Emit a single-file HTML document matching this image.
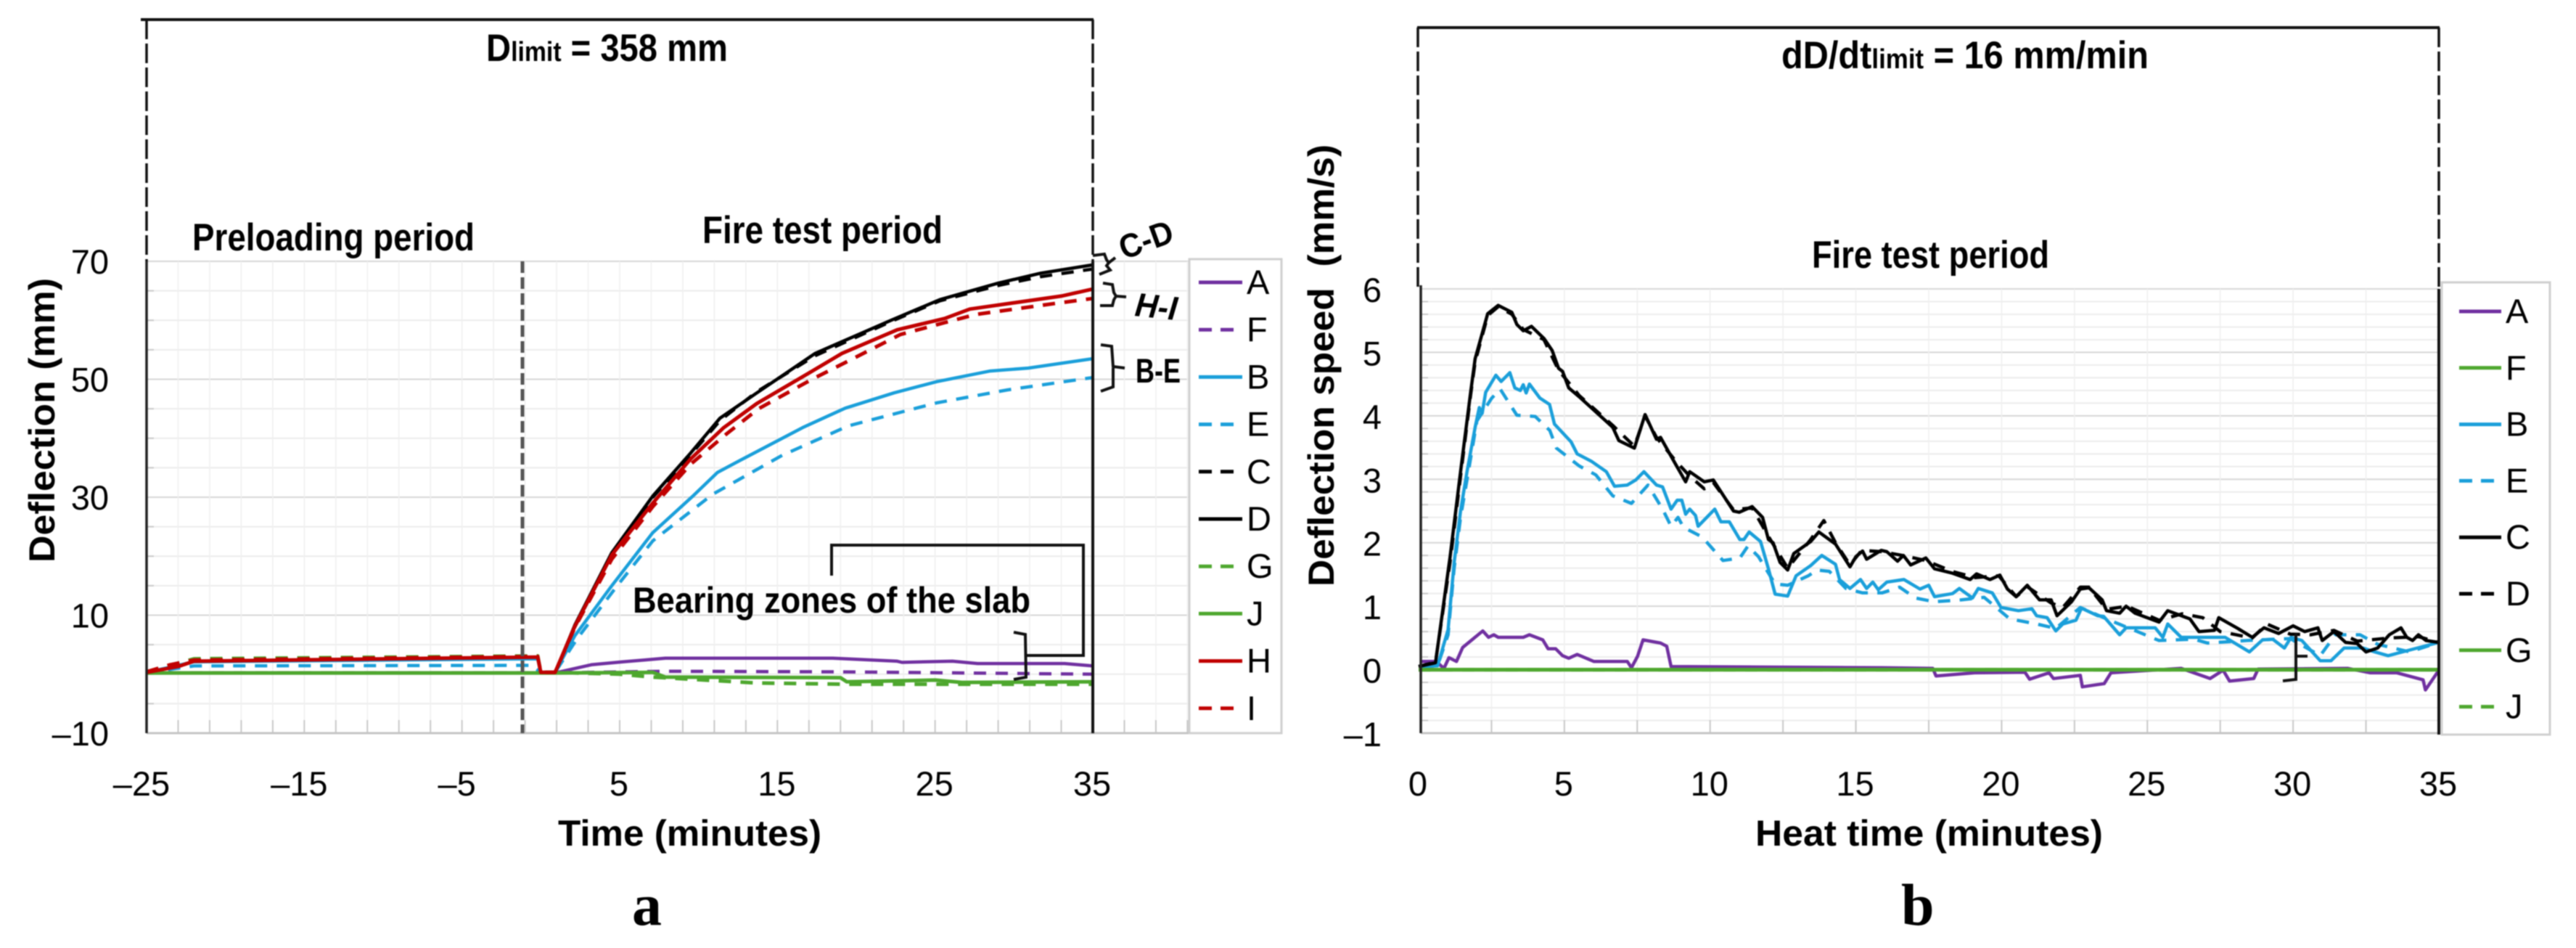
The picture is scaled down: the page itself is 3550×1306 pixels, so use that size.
<!DOCTYPE html>
<html lang="en">
<head>
<meta charset="utf-8">
<title>Deflection and deflection speed charts</title>
<style>
html,body{margin:0;padding:0;background:#fff;width:3550px;height:1306px;overflow:hidden}
svg{display:block;filter:blur(0.7px)}
text{fill:#000;font-family:"Liberation Sans",sans-serif}
.cond{font-family:"Liberation Sans Narrow","Liberation Sans",sans-serif;font-weight:700}
.tick{font-size:47px}
.title{font-weight:700;font-size:50px}
.leg{font-size:47px}
.panel{font-family:"Liberation Serif",serif;font-weight:700;font-size:82px}
</style>
</head>
<body>
<svg id="figure" xmlns="http://www.w3.org/2000/svg" width="3550" height="1306" viewBox="0 0 3550 1306">
  <rect width="3550" height="1306" fill="#fff"/>
  <g id="gridA"></g>
  <g id="gridB"></g>
  <g id="seriesA"></g>
  <g id="seriesB"></g>
  <g id="ticksA"></g>
  <g id="ticksB"></g>

  <!-- chart a frame -->
  <line x1="194" y1="27" x2="1507" y2="27" stroke="#111" stroke-width="4"/>
  <line x1="202" y1="27" x2="202" y2="360" stroke="#111" stroke-width="3.5" stroke-dasharray="27 6"/>
  <line x1="1506" y1="27" x2="1506" y2="360" stroke="#111" stroke-width="3.5" stroke-dasharray="27 6"/>
  <line x1="202" y1="360" x2="202" y2="1010" stroke="#222" stroke-width="3.5"/>
  <line x1="1506" y1="360" x2="1506" y2="1010" stroke="#111" stroke-width="4"/>
  <line x1="720" y1="360" x2="720" y2="1010" stroke="#555" stroke-width="5" stroke-dasharray="16 6"/>

  <text class="cond" x="670" y="84" font-size="53" textLength="333" lengthAdjust="spacingAndGlyphs">D<tspan font-size="38">limit</tspan> = 358 mm</text>
  <text class="cond" x="265" y="345" font-size="53" textLength="389" lengthAdjust="spacingAndGlyphs">Preloading period</text>
  <text class="cond" x="968" y="335" font-size="53" textLength="331" lengthAdjust="spacingAndGlyphs">Fire test period</text>
  <text class="title" transform="translate(75,775) rotate(-90)" textLength="392" lengthAdjust="spacingAndGlyphs">Deflection (mm)</text>
  <text class="title" x="769" y="1165" textLength="363" lengthAdjust="spacingAndGlyphs">Time (minutes)</text>
  <text class="panel" x="871" y="1274">a</text>

  <!-- chart a annotations -->
  <g fill="none" stroke="#111" stroke-width="4">
    <path d="M1506 352 L1522 350 L1525 358 L1528 362 L1537 355 M1528 362 L1525 366 L1530 372 L1515 378"/>
    <path d="M1520 390 L1533 392 L1535 403 L1538 408 L1552 409 M1538 408 L1535 413 L1533 421 L1516 421"/>
    <path d="M1517 475 L1532 477 L1534 505 L1550 507 M1534 507 L1534 533 L1517 539"/>
    <path d="M1146 793 L1146 751 L1493 751 L1493 903 L1414 903"/>
    <path d="M1397 871 L1413 874 L1414 933 L1397 936"/>
  </g>
  <text font-weight="700" font-size="46" transform="translate(1549,358) rotate(-20)" textLength="76" lengthAdjust="spacingAndGlyphs">C-D</text>
  <text font-weight="700" font-style="italic" font-size="46" transform="translate(1563,435) rotate(6)" textLength="58" lengthAdjust="spacingAndGlyphs">H-I</text>
  <text class="cond" font-size="47" x="1565" y="527" textLength="62" lengthAdjust="spacingAndGlyphs">B-E</text>
  <text class="cond" font-size="50" x="872" y="844" textLength="548" lengthAdjust="spacingAndGlyphs">Bearing zones of the slab</text>

  <!-- chart b frame -->
  <line x1="1953" y1="38" x2="3362" y2="38" stroke="#111" stroke-width="4"/>
  <line x1="1954" y1="38" x2="1954" y2="395" stroke="#111" stroke-width="3.5" stroke-dasharray="27 6"/>
  <line x1="3361" y1="38" x2="3361" y2="398" stroke="#111" stroke-width="3.5" stroke-dasharray="27 6"/>
  <line x1="1958" y1="393" x2="1958" y2="1010" stroke="#222" stroke-width="3.5"/>
  <line x1="3361" y1="398" x2="3361" y2="1012" stroke="#111" stroke-width="4"/>
  <text class="cond" x="2455" y="94" font-size="53" textLength="506" lengthAdjust="spacingAndGlyphs">dD/dt<tspan font-size="38">limit</tspan> = 16 mm/min</text>
  <text class="cond" x="2497" y="369" font-size="53" textLength="327" lengthAdjust="spacingAndGlyphs">Fire test period</text>
  <text class="title" transform="translate(1838,808) rotate(-90)" textLength="609" lengthAdjust="spacingAndGlyphs">Deflection speed&#160; (mm/s)</text>
  <text class="title" x="2419" y="1165" textLength="479" lengthAdjust="spacingAndGlyphs">Heat time (minutes)</text>
  <text class="panel" x="2620" y="1274">b</text>
  <path d="M3164 873 L3164 936 L3146 938 M3164 904 L3180 904" fill="none" stroke="#111" stroke-width="4"/>

  <g id="legendA"></g>
  <g id="legendB"></g>
</svg>

<script>
// ---------- Chart a: deflection vs time ----------
const aXTicks = [-25,-15,-5,5,15,25,35];
const aYTicks = [70,50,30,10,-10];
const aLegendNames = ['A','F','B','E','C','D','G','J','H','I'];

const aTimeA = [-25,0.9,3.2,5.2,7.9,18.5,22.6,22.9,26.1,27.7,33.2,35];
const aValA  = [0.2,0.2,1.6,2.1,2.7,2.7,2.2,2,2.2,1.8,1.8,1.4];
const aTimeF = [-25,0.9,3,5.5,7.9,18.5,27,35];
const aValF  = [0.2,0.2,0.3,0.4,0.5,0.4,0.2,0];
const aTimeB = [-25,-22,-0.2,0,0.9,2.15,4.5,7.1,9.6,11.2,12.6,16.6,19.3,22.4,25.1,28.5,30.9,35];
const aValB  = [0.3,2.1,2.6,0.3,0.3,6.5,15,24,30.1,34.2,36.2,41.8,45.1,47.7,49.6,51.4,51.9,53.5];
const aTimeE = [-25,-22,-0.6,0,0.9,2.3,4.7,7.1,10.9,15.3,19.5,25.1,29.6,35];
const aValE  = [0.2,1.4,1.5,0.3,0.3,6,14.5,22.6,30.5,37.1,42.1,46,48.2,50.3];
const aTimeC = [-25,0,0.9,2.15,4.5,7.1,9.5,11.36,13.7,17.4,22.2,25.3,29,31.7,35];
const aValC  = [0.2,0.2,0.2,8,20.2,30,37.2,43,47.9,54,59.8,63.3,65.9,67.4,68.7];
const aTimeD = [-25,0,0.9,2.15,4.5,7.1,9.5,11.36,13.7,17.4,22.2,25.3,29,31.7,35];
const aValD  = [0.2,0.2,0.2,8.3,20.6,30.2,37.5,43.4,47.7,54.4,60,63.5,66.3,68,69.4];
const aTimeG = [-25,-22,-0.2,0,0.9,5,7.1,13.7,19.4,35];
const aValG  = [0.4,2.6,3.1,0.3,0.3,0,-0.5,-1.5,-1.7,-1.7];
const aTimeJ = [-25,0.9,7.1,7.9,19,19.4,25,26.7,35];
const aValJ  = [0.2,0.2,0.3,-0.5,-0.6,-1.3,-1,-1.4,-1.3];
const aTimeH = [-25,-23,-22,-0.2,0,0.9,2.15,4.5,7.1,9.5,11.6,13.7,16.9,19.1,22.6,25.6,27.2,33,35];
const aValH  = [0.3,1.3,2.2,2.9,0.3,0.3,8.1,20.2,29,36.5,41.8,45.9,50.9,54.4,58.4,60.3,61.9,64.1,65.3];
const aTimeI = [-25,-23.5,-22,-0.2,0,0.9,2.15,4.5,7.1,9.5,11.8,13.8,17.2,19.5,22.8,25.6,27.6,33,35];
const aValI  = [0.4,1.6,2.4,3,0.3,0.3,7.9,19.5,28.4,35.6,40.8,45,50,53.1,57.6,59.6,61,63,63.7];

// ---------- Chart b: deflection speed vs heat time ----------
const bXTicks = [0,5,10,15,20,25,30,35];
const bYTicks = [6,5,4,3,2,1,0,-1];
const bLegendNames = ['A','F','B','E','C','D','G','J'];

const bTimeA = [0.1,0.6,0.87,1.04,1.3,1.51,2.2,2.4,2.58,2.73,3.59,3.8,4.26,4.44,4.7,4.94,5.15,5.44,6.01,7.16,7.3,7.51,7.7,8.3,8.51,8.66,15.9,17.64,17.75,19.07,20.8,20.96,21.63,21.78,22.7,22.77,23.52,23.75,26.16,27.15,27.6,27.82,28.65,28.8,31.88,32.65,33.56,34.46,34.54,35];
const bValA  = [0.13,0.13,0.02,0.19,0.13,0.35,0.61,0.51,0.55,0.51,0.51,0.55,0.47,0.33,0.33,0.22,0.18,0.24,0.13,0.13,0.03,0.21,0.47,0.42,0.37,0.05,0.03,0.02,-0.1,-0.05,-0.04,-0.15,-0.05,-0.14,-0.09,-0.27,-0.22,-0.05,0.02,-0.14,-0.01,-0.18,-0.14,0.01,0.02,-0.05,-0.05,-0.16,-0.32,-0.01];
const bTimeF = [0,35];
const bValF  = [0,0];
const bTimeB = [0.1,0.65,1.01,1.22,1.44,1.66,1.94,2.08,2.18,2.3,2.65,2.83,3.13,3.3,3.49,3.59,3.69,3.8,4.16,4.49,4.66,5.23,5.44,5.94,6.44,6.72,7.16,7.45,7.73,8.16,8.37,8.66,8.87,9.03,9.16,9.3,9.5,9.59,10.16,10.37,10.66,11.02,11.16,11.34,11.73,12.0,12.23,12.66,12.95,13.45,13.83,14.3,14.44,14.8,15.16,15.37,15.58,15.77,16.06,16.65,17.2,17.5,17.7,18.32,18.55,19,19.2,19.68,19.98,20.58,21.04,21.2,21.56,21.86,22.1,22.55,22.74,23.3,23.5,24.05,24.27,25.27,25.53,25.7,26.16,27.67,28.5,28.95,29.3,29.7,29.93,30.3,30.93,31.3,31.75,32.4,32.8,33.26,34,35];
const bValB  = [0.05,0.06,0.63,1.69,2.5,3.12,3.82,4.13,4.04,4.37,4.64,4.54,4.68,4.44,4.4,4.49,4.36,4.5,4.28,4.18,3.87,3.59,3.4,3.28,3.12,2.89,2.91,2.99,3.12,2.91,2.88,2.53,2.67,2.67,2.45,2.53,2.43,2.26,2.53,2.33,2.33,2.05,2.05,2.17,2.02,1.59,1.19,1.16,1.48,1.64,1.8,1.66,1.42,1.28,1.42,1.28,1.38,1.26,1.38,1.42,1.27,1.33,1.15,1.2,1.28,1.13,1.28,1.21,0.98,0.93,0.96,0.85,0.82,0.61,0.72,0.78,0.97,0.85,0.84,0.55,0.66,0.66,0.51,0.72,0.51,0.51,0.28,0.47,0.48,0.34,0.51,0.46,0.14,0.14,0.34,0.34,0.28,0.22,0.31,0.43];
const bTimeE = [0.1,0.65,1.01,1.22,1.44,1.7,2.0,2.51,2.8,3.37,4.0,4.5,4.73,5.51,6.08,6.66,7.3,7.87,8.37,8.66,8.9,9.09,9.73,10.44,11.02,11.3,11.66,12.23,12.66,13.37,13.66,14.09,14.66,15.23,15.9,16.5,17.04,17.7,18.62,19.4,20.28,21.2,21.86,22.7,23.6,24.5,25.4,26.6,27.07,28.43,29.9,30.93,31.45,32.3,32.9,34,35];
const bValE  = [0.05,0.06,0.55,1.6,2.4,3.1,3.92,4.28,4.42,4.01,3.99,3.77,3.49,3.21,3.07,2.74,2.62,2.91,2.53,2.26,2.4,2.24,2.09,1.72,1.76,1.95,1.78,1.35,1.33,1.48,1.57,1.55,1.28,1.21,1.21,1.3,1.13,1.07,1.1,1.14,0.8,0.72,0.65,0.98,0.8,0.63,0.46,0.48,0.42,0.46,0.49,0.22,0.55,0.55,0.4,0.28,0.43];
const bTimeC = [0,0.58,1.08,1.44,1.79,1.94,2.37,2.73,3.2,3.37,3.59,3.87,4.3,4.58,4.8,4.94,5.15,5.51,6.66,6.87,7.4,7.77,8.16,8.3,8.8,9.16,9.3,9.8,10.11,10.8,11.0,11.44,11.8,12.0,12.16,12.4,12.66,12.87,13.45,13.73,14.3,14.8,15,15.23,15.37,15.87,16.06,16.43,16.63,16.88,17.4,17.7,18.32,18.92,19.14,19.6,19.94,20.2,20.5,20.88,21.3,21.7,21.9,22.4,22.7,23,23.45,23.6,24.05,24.27,24.58,25.4,25.7,26.46,26.77,27.3,27.45,28.1,28.6,29,29.5,30,30.4,30.85,31,31.4,31.8,32.2,32.5,32.9,33.3,33.7,33.9,34.1,34.3,34.56,35];
const bValC  = [0.05,0.11,1.78,3.12,4.39,4.9,5.61,5.74,5.63,5.44,5.34,5.41,5.22,5.03,4.75,4.7,4.44,4.3,3.82,3.61,3.49,4.02,3.63,3.66,3.25,2.96,3.12,2.96,2.99,2.5,2.48,2.57,2.4,2.05,2.0,1.69,1.57,1.83,2.02,2.17,1.98,1.62,1.78,1.87,1.74,1.88,1.86,1.71,1.8,1.65,1.76,1.59,1.52,1.42,1.51,1.42,1.49,1.27,1.15,1.33,1.1,1.1,0.85,1.07,1.27,1.29,1.1,0.93,0.89,1.0,0.89,0.75,0.93,0.8,0.6,0.62,0.82,0.65,0.51,0.66,0.57,0.69,0.6,0.66,0.46,0.6,0.43,0.41,0.28,0.34,0.55,0.66,0.51,0.46,0.55,0.46,0.43];
const bTimeD = [0,0.58,1.08,1.44,1.79,1.94,2.37,2.73,3.2,3.59,4.3,4.8,5.51,6.66,7.4,7.77,8.16,8.8,9.3,9.8,10.11,10.8,11.44,12.0,12.66,13.45,13.9,14.3,14.8,15.2,15.9,16.6,17.4,18.3,19.1,19.9,20.5,20.9,21.7,22.1,22.7,23.0,23.6,24.3,25.4,26.2,26.9,27.5,28.6,29.1,29.9,30.6,31.4,32.2,33.3,34.3,35];
const bValD  = [0.05,0.12,1.7,3.05,4.35,4.85,5.58,5.72,5.6,5.36,5.2,4.72,4.32,3.85,3.52,4.0,3.66,3.3,3.05,2.85,2.95,2.52,2.55,2.1,1.6,2.05,2.35,2.0,1.65,1.88,1.86,1.8,1.72,1.55,1.45,1.48,1.15,1.3,1.05,0.98,1.3,1.3,0.95,1.0,0.78,0.88,0.82,0.6,0.5,0.72,0.56,0.55,0.62,0.45,0.5,0.52,0.43];
const bTimeG = [0,35];
const bValG  = [0,0];
const bTimeJ = [0,35];
const bValJ  = [0,0];

// ---------- Axis functions ----------
const aX = t => 202 + (t + 25) * (1304 / 60);
const aY = v => 360 + (70 - v) * (650 / 80);
const bX = t => 1955 + t * (1406 / 35);
const bY = v => 398 + (6 - v) * (612 / 7);

const NS = 'http://www.w3.org/2000/svg';
const PURPLE = '#7030a0', BLUE = '#1a9fda', BLACK = '#000', GREEN = '#4ea72e', RED = '#c00000';
const DASH = '17 13';

function vline(parent, x, y1, y2, color, w) {
  const el = document.createElementNS(NS, 'line');
  el.setAttribute('x1', x); el.setAttribute('x2', x);
  el.setAttribute('y1', y1); el.setAttribute('y2', y2);
  el.setAttribute('stroke', color); el.setAttribute('stroke-width', w);
  
  
  parent.appendChild(el);
}
function hline(parent, y, x1, x2, color, w) {
  const el = document.createElementNS(NS, 'line');
  el.setAttribute('x1', x1); el.setAttribute('x2', x2);
  el.setAttribute('y1', y); el.setAttribute('y2', y);
  el.setAttribute('stroke', color); el.setAttribute('stroke-width', w);
  
  
  parent.appendChild(el);
}
function label(parent, str, x, y, anchor, cls, name) {
  const el = document.createElementNS(NS, 'text');
  el.setAttribute('x', x); el.setAttribute('y', y);
  el.setAttribute('text-anchor', anchor);
  el.setAttribute('class', cls);
  el.textContent = str;
  
  
  parent.appendChild(el);
}
function series(parent, times, vals, fx, fy, color, w, dash, name) {
  const el = document.createElementNS(NS, 'path');
  el.setAttribute('d', times.map((t, i) => (i ? 'L' : 'M') + fx(t).toFixed(1) + ' ' + fy(vals[i]).toFixed(1)).join(' '));
  el.setAttribute('fill', 'none');
  el.setAttribute('stroke', color);
  el.setAttribute('stroke-width', w);
  el.setAttribute('stroke-linejoin', 'round');
  if (dash) el.setAttribute('stroke-dasharray', dash);
  
  
  parent.appendChild(el);
}
const fmt = v => (v < 0 ? '\u2013' + Math.abs(v) : String(v));

// ---------- Grid a ----------
const gA = document.getElementById('gridA');
for (let v = -10; v <= 70; v += 5) {
  const major = (v + 10) % 20 === 0;
  hline(gA, aY(v), 202, 1638, major ? '#d6d6d6' : '#ececec', 2);
  if (!major) hline(gA, aY(v), 202, 212, '#c8c8c8', 2);
}
for (let t = -23; t <= 41; t += 2) {
  vline(gA, aX(t), 360, 1010, '#efefef', 1.5);
  vline(gA, aX(t), 992, 1010, '#c8c8c8', 2);
}
hline(gA, 1010, 202, 1638, '#c4c4c4', 3);

// ---------- Grid b ----------
const gB = document.getElementById('gridB');
for (let i = 0; i <= 35; i++) {
  const v = -1 + i * 0.2;
  const major = i % 5 === 0;
  hline(gB, bY(v), 1958, 3361, major ? '#d6d6d6' : '#ececec', 2);
  if (!major) hline(gB, bY(v), 1958, 1968, '#c8c8c8', 2);
}
for (let t = 2.5; t <= 32.5; t += 2.5) {
  vline(gB, bX(t), 398, 1010, '#efefef', 1.5);
  vline(gB, bX(t), 992, 1010, '#c8c8c8', 2);
}
hline(gB, 1010, 1958, 3361, '#c4c4c4', 3);

// ---------- Ticks ----------
const tA = document.getElementById('ticksA');
aXTicks.forEach(v => label(tA, fmt(v), aX(v) + (v < 0 ? -7 : -1), 1096, 'middle', 'tick', 'x-tick-label'));
aYTicks.forEach(v => label(tA, fmt(v), 150, aY(v) + 17, 'end', 'tick', 'y-tick-label'));
const tB = document.getElementById('ticksB');
bXTicks.forEach(v => label(tB, fmt(v), bX(v) - 1, 1096, 'middle', 'tick', 'x-tick-label'));
bYTicks.forEach(v => label(tB, fmt(v), 1904, bY(v) + 18, 'end', 'tick', 'y-tick-label'));

// ---------- Series a ----------
const sA = document.getElementById('seriesA');
series(sA, aTimeA, aValA, aX, aY, PURPLE, 4.5, null, 'series-a');
series(sA, aTimeF, aValF, aX, aY, PURPLE, 4.5, DASH, 'series-f');
series(sA, aTimeB, aValB, aX, aY, BLUE, 4.5, null, 'series-b');
series(sA, aTimeE, aValE, aX, aY, BLUE, 4.5, DASH, 'series-e');
series(sA, aTimeC, aValC, aX, aY, BLACK, 4.5, DASH, 'series-c');
series(sA, aTimeD, aValD, aX, aY, BLACK, 4.5, null, 'series-d');
series(sA, aTimeG, aValG, aX, aY, GREEN, 5, DASH, 'series-g');
series(sA, aTimeJ, aValJ, aX, aY, GREEN, 5, null, 'series-j');
series(sA, aTimeH, aValH, aX, aY, RED, 5, null, 'series-h');
series(sA, aTimeI, aValI, aX, aY, RED, 5, DASH, 'series-i');

// ---------- Series b ----------
const sB = document.getElementById('seriesB');
series(sB, bTimeA, bValA, bX, bY, PURPLE, 4.5, null, 'series-a');
series(sB, bTimeB, bValB, bX, bY, BLUE, 4.5, null, 'series-b');
series(sB, bTimeE, bValE, bX, bY, BLUE, 4.5, DASH, 'series-e');
series(sB, bTimeD, bValD, bX, bY, BLACK, 4.5, DASH, 'series-d');
series(sB, bTimeC, bValC, bX, bY, BLACK, 4.5, null, 'series-c');
series(sB, bTimeF, bValF, bX, bY, GREEN, 5, null, 'series-f');
series(sB, bTimeG, bValG, bX, bY, GREEN, 5, null, 'series-g');
series(sB, bTimeJ, bValJ, bX, bY, GREEN, 5, DASH, 'series-j');

// ---------- Legends ----------
function legend(parentId, names, box, y0, step, lx1, lx2, lxDash, tx, styleMap) {
  const g = document.getElementById(parentId);
  const r = document.createElementNS(NS, 'rect');
  r.setAttribute('x', box[0]); r.setAttribute('y', box[1]);
  r.setAttribute('width', box[2]); r.setAttribute('height', box[3]);
  r.setAttribute('fill', '#fff'); r.setAttribute('stroke', '#cfcfcf'); r.setAttribute('stroke-width', 3);
  
  
  g.appendChild(r);
  names.forEach((n, i) => {
    const y = y0 + i * step;
    const st = styleMap[n];
    const l = document.createElementNS(NS, 'line');
    l.setAttribute('x1', lx1); l.setAttribute('y1', y);
    l.setAttribute('x2', st[1] ? lxDash : lx2); l.setAttribute('y2', y);
    l.setAttribute('stroke', st[0]); l.setAttribute('stroke-width', 5);
    if (st[1]) l.setAttribute('stroke-dasharray', '18 12');
    
    
    g.appendChild(l);
    label(g, n, tx, y + 16, 'start', 'leg', 'legend-entry');
  });
}
legend('legendA', aLegendNames, [1639, 357, 127, 653], 389, 65.2, 1652, 1712, 1701, 1718, {
  A:[PURPLE,0],F:[PURPLE,1],B:[BLUE,0],E:[BLUE,1],C:[BLACK,1],D:[BLACK,0],G:[GREEN,1],J:[GREEN,0],H:[RED,0],I:[RED,1]
});
legend('legendB', bLegendNames, [3365, 389, 149, 623], 429, 77.8, 3389, 3447, 3438, 3453, {
  A:[PURPLE,0],F:[GREEN,0],B:[BLUE,0],E:[BLUE,1],C:[BLACK,0],D:[BLACK,1],G:[GREEN,0],J:[GREEN,1]
});
</script>
</body>
</html>
